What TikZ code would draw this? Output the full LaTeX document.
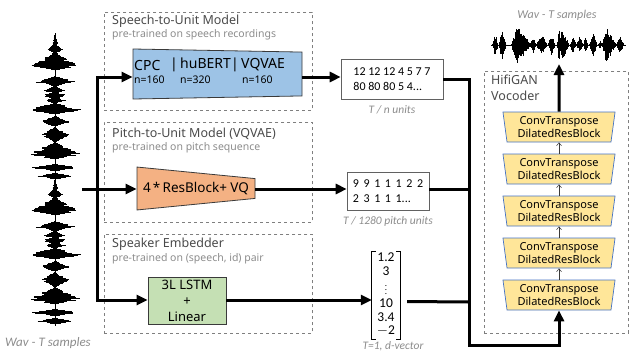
\documentclass[tikz,border=0pt]{standalone}
\usepackage{fontspec}
\setmainfont{Noto Sans}
\newfontfamily\calib{Carlito}
\usetikzlibrary{arrows.meta,shapes.geometric,calc,positioning}

\definecolor{s2ublue}{HTML}{9DC3E6}
\definecolor{p2uorange}{HTML}{F4B183}
\definecolor{spkgreen}{HTML}{C5E0B4}
\definecolor{vocyellow}{HTML}{FFE699}
\definecolor{vocedge}{HTML}{4472C4}
\definecolor{panelgray}{HTML}{7F7F7F}
\definecolor{titlegray}{HTML}{4A4A4A}
\definecolor{subgray}{HTML}{8C8C8C}
\definecolor{edgegray}{HTML}{3A3A3A}

% gap between pitch codes
\newcommand\pgap{\hspace{4.6pt}}

% one burst of the upright waveform: top, bottom, half width, peak position
\newcommand\vburst[4]{%
  \pgfmathtruncatemacro\wvN{2*(#2-#1)}%
  \foreach \k in {0,...,\wvN}{%
    \pgfmathsetmacro\wvT{\k/\wvN}%
    \pgfmathsetmacro\wvP{\wvT<#4 ? \wvT/#4 : (1-\wvT)/(1-#4)}%
    \pgfmathsetmacro\wvL{#3*\wvP*(0.55+0.45*rnd)+0.4}%
    \pgfmathsetmacro\wvR{#3*\wvP*(0.55+0.45*rnd)+0.4}%
    \draw[line width=0.6pt] ({55-\wvL},{#1+\k/2}) -- ({55+\wvR},{#1+\k/2});
  }}
% one burst of the lying waveform: left, right, half height, peak position
\newcommand\hburst[4]{%
  \pgfmathtruncatemacro\wvN{2*(#2-#1)}%
  \foreach \k in {0,...,\wvN}{%
    \pgfmathsetmacro\wvT{\k/\wvN}%
    \pgfmathsetmacro\wvP{\wvT<#4 ? \wvT/#4 : (1-\wvT)/(1-#4)}%
    \pgfmathsetmacro\wvL{#3*\wvP*(0.5+0.5*rnd)+0.4}%
    \pgfmathsetmacro\wvR{#3*\wvP*(0.5+0.5*rnd)+0.4}%
    \draw[line width=0.6pt] ({#1+\k/2},{45-\wvL}) -- ({#1+\k/2},{45+\wvR});
  }}

\tikzset{
  panel/.style={draw=panelgray, dashed, line width=0.6pt, anchor=north west, inner sep=0pt},
  ptitle/.style={anchor=west, text=titlegray, inner sep=0pt, font=\fontsize{12.5}{15}\selectfont},
  psub/.style={anchor=west, text=subgray, inner sep=0pt, font=\fontsize{10.5}{12}\selectfont},
  note/.style={text=subgray, inner sep=0pt, font=\calib\itshape\fontsize{11.5}{13}\selectfont},
  flow/.style={line width=3pt, -{Triangle[length=11pt,width=10pt]}},
  wire/.style={line width=3pt},
  % border turned on its side: minimum width is the left edge, minimum height the depth
  encoder/.style={trapezium, shape border rotate=270, trapezium stretches=true,
    draw=edgegray, line width=0.8pt, inner sep=2pt},
  enclabel/.style={anchor=west, inner sep=0pt, font=\fontsize{14}{16}\selectfont},
  encsize/.style={anchor=west, inner sep=0pt, font=\fontsize{10.5}{12}\selectfont},
  tokens/.style={draw=edgegray!80, line width=0.6pt, align=left, inner sep=0pt,
    font=\calib\fontsize{12}{15}\selectfont},
  vocblock/.style={trapezium, shape border rotate=180, trapezium stretches=true,
    trapezium angle=81, minimum width=113pt, minimum height=30pt, draw=vocedge,
    fill=vocyellow, line width=0.7pt, align=center, inner sep=0pt,
    font=\fontsize{11}{12.5}\selectfont},
  upstep/.style={draw=edgegray, line width=0.5pt, -{Straight Barb[length=3pt,width=5pt]}},
}

\begin{document}
\begin{tikzpicture}[x=1pt, y=-1pt]
  \useasboundingbox (0,0) rectangle (631,354);

  % dashed panels
  \node[panel, minimum width=208pt, minimum height=98pt] (pnS2U) at (104,12) {};
  \node[panel, minimum width=208pt, minimum height=100pt] (pnP2U) at (104,122) {};
  \node[panel, minimum width=208pt, minimum height=99pt] (pnSpk) at (104,234) {};
  \node[panel, minimum width=144pt, minimum height=262pt] (pnVoc) at (484,71) {};

  \node[ptitle] (tS2U) at (112,21) {Speech-to-Unit Model};
  \node[psub] (sS2U) at (112,35) {pre-trained on speech recordings};
  \node[ptitle] (tP2U) at (112,134) {Pitch-to-Unit Model (VQVAE)};
  \node[psub] (sP2U) at (112,148) {pre-trained on pitch sequence};
  \node[ptitle] (tSpk) at (112,244) {Speaker Embedder};
  \node[psub] (sSpk) at (112,259) {pre-trained on (speech, id) pair};
  \node[ptitle, anchor=north west, align=left, font=\fontsize{12.5}{16}\selectfont]
    (tVoc) at (491,75) {HifiGAN\\Vocoder};

  % encoders
  \node[encoder, fill=s2ublue, trapezium angle=86, minimum width=50pt, minimum height=169pt]
    (s2u) at (217.5,74) {};
  \node[enclabel] (cpc) at (134,65) {CPC};
  \node[enclabel] (hubert) at (170,65) {|\,huBERT};
  \node[enclabel] (vqvae) at (231,65) {|\,VQVAE};
  \node[encsize] (nCpc) at (134,80) {n=160};
  \node[encsize] (nHub) at (180,80) {n=320};
  \node[encsize] (nVq) at (242,80) {n=160};

  \node[encoder, fill=p2uorange, trapezium angle=85, minimum width=43pt, minimum height=118pt,
    font=\fontsize{13.5}{15}\selectfont] (p2u) at (196,188.5) {4\,*\,ResBlock+ VQ};

  \node[draw=edgegray, line width=0.8pt, fill=spkgreen, minimum width=78pt, minimum height=47pt,
    align=center, inner sep=0pt, font=\fontsize{13}{16}\selectfont]
    (spk) at (187,300.5) {3L LSTM\\+\\Linear};

  % discrete units and speaker vector
  \node[tokens, minimum width=102pt, minimum height=40pt] (units) at (392,79)
    {12 12 12 4 5 7 7\\80 80 80 5 4...};
  \node[note, below=6pt of units] (unitsLbl) {T / n units};
  \node[tokens, minimum width=82pt, minimum height=38pt] (pitch) at (388,191)
    {9\pgap9\pgap1\pgap1\pgap1\pgap2\pgap2\\2\pgap3\pgap1\pgap1\pgap1...};
  \node[note, below=6pt of pitch] (pitchLbl) {T / 1280 pitch units};
  \node[inner sep=0pt, minimum width=28pt, minimum height=81pt,
    font=\calib\fontsize{13.5}{13.6}\selectfont] (dvec) at (386,295.5)
    {\begin{tabular}{@{}c@{}}1.2\\3\\{\fontsize{9}{9}\selectfont$\vdots$}\\10\\3.4\\$-$2\end{tabular}};
  \draw[line width=0.8pt] ($(dvec.north west)+(4,0)$) -- (dvec.north west)
    -- (dvec.south west) -- ++(4,0);
  \draw[line width=0.8pt] ($(dvec.north east)+(-4,0)$) -- (dvec.north east)
    -- (dvec.south east) -- ++(-4,0);
  \node[note] (dvecLbl) at (393,346) {T=1, d-vector};

  % vocoder stack
  \foreach \i in {1,...,5}
    \node[vocblock] (vc\i) at (559,{295-42*(\i-1)}) {ConvTranspose\\DilatedResBlock};
  \foreach \i [evaluate=\i as \j using int(\i+1)] in {1,...,4}
    \draw[upstep] (vc\i.north) -- (vc\j.south);

  % input split
  \coordinate (wavTap) at (82,189);
  \coordinate (brTop) at (97,77);
  \coordinate (brMid) at (97,189);
  \coordinate (brBot) at (97,300);
  \draw[wire] (wavTap) -- (brMid);
  \draw[wire, line cap=rect] (brTop) -- (brBot);
  \draw[flow] (brTop) -- (s2u.west |- brTop);
  \draw[flow] (brMid) -- (p2u.west |- brMid);
  \draw[flow] (brBot) -- (spk.west |- brBot);

  % encoders to units
  \draw[flow] (s2u.east |- brTop) -- (units.west |- brTop);
  \draw[flow] (p2u.east |- brMid) -- (pitch.west |- brMid);
  \draw[flow] (spk.east |- brBot) -- (dvec.west |- brBot);

  % merge into the vocoder
  \coordinate (mergeBot) at (469,345);
  \draw[wire] (pitch.east |- brMid) -- (mergeBot |- brMid);
  \draw[wire] ($(dvec.east)+(7,6)$) -- (mergeBot |- 0,302);
  \draw[flow] (units.east) -| (mergeBot) -| (vc1.south);

  % output
  \coordinate (wavOut) at (559,64);
  \draw[flow] (vc5.north) -- (wavOut);

  % input waveform, two identical phrases
  \draw[line width=1pt] (55,33) -- (55,326);
  \foreach \off in {0,145}{
    \pgfmathsetseed{4711}
    \begin{scope}[shift={(0,\off)}]
      \vburst{35}{46}{2.5}{0.8}
      \vburst{44}{53}{9}{0.6}
      \vburst{52}{70}{24}{0.75}
      \vburst{76}{86}{21}{0.55}
      \vburst{86}{93}{12}{0.6}
      \vburst{92}{98}{14}{0.6}
      \vburst{97}{103}{11}{0.5}
      \vburst{103}{114}{28}{0.6}
      \vburst{116}{126}{16}{0.6}
      \vburst{127}{142}{14}{0.5}
      \vburst{142}{159}{27}{0.7}
      \vburst{164}{171}{24}{0.5}
      \vburst{173}{179}{20}{0.5}
    \end{scope}
  }
  \node[note, font=\calib\itshape\fontsize{13}{15}\selectfont] (wavInLbl) at (48,343) {Wav - T samples};

  % output waveform
  \pgfmathsetseed{815}
  \draw[line width=1pt] (491,45) -- (626,45);
  \hburst{492}{498}{11}{0.5}
  \hburst{499}{506}{16}{0.4}
  \hburst{511}{531}{19}{0.3}
  \hburst{530}{536}{8}{0.5}
  \hburst{536}{547}{10}{0.5}
  \hburst{548}{555}{10}{0.5}
  \hburst{557}{561}{20}{0.5}
  \hburst{560}{569}{16}{0.2}
  \hburst{570}{576}{9}{0.5}
  \hburst{576}{583}{8}{0.5}
  \hburst{583}{588}{7}{0.5}
  \hburst{589}{597}{12}{0.5}
  \hburst{598}{602}{4}{0.5}
  \hburst{602}{616}{17}{0.3}
  \hburst{616}{624}{8}{0.5}
  \node[note, font=\calib\itshape\fontsize{12}{14}\selectfont] (wavOutLbl) at (557,15) {Wav - T samples};
\end{tikzpicture}
\end{document}
